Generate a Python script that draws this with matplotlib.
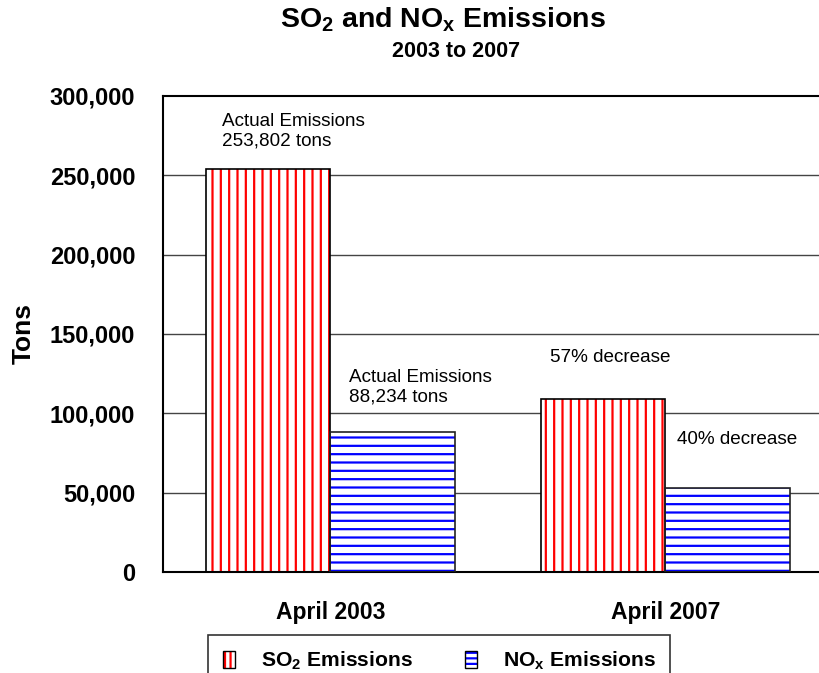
import numpy as np
import matplotlib
matplotlib.use('Agg')
import matplotlib.pyplot as plt
from matplotlib.patches import Patch
from matplotlib.legend_handler import HandlerTuple

plt.rcParams['font.family'] = ['Liberation Sans', 'DejaVu Sans']
plt.rcParams['mathtext.fontset'] = 'custom'
plt.rcParams['mathtext.rm'] = 'Liberation Sans:bold'
plt.rcParams['mathtext.it'] = 'Liberation Sans:bold'
plt.rcParams['mathtext.bf'] = 'Liberation Sans:bold'
plt.rcParams['hatch.linewidth'] = 1.6

# data
periods = ['April 2003', 'April 2007']
so2 = [253802, 109000]
nox = [88234, 53000]
yticks = [0, 50000, 100000, 150000, 200000, 250000, 300000]
notes_so2 = ['Actual Emissions\n253,802 tons', '57% decrease']
notes_nox = ['Actual Emissions\n88,234 tons', '40% decrease']

fig = plt.figure(figsize=(8.2, 6.73), dpi=100)
ax = fig.add_axes([163/820, 101/673, 670/820, 476/673])

x = np.arange(len(periods))
w = 0.373

#hatched fills, then outlines on top
ax.bar(x - w/2, so2, w, color='white', edgecolor='red', hatch='||', lw=0, zorder=2)
ax.bar(x - w/2, so2, w, fill=False, edgecolor='black', lw=1.2, zorder=3)
ax.bar(x + w/2, nox, w, color='white', edgecolor='blue', hatch='--', lw=0, zorder=2)
ax.bar(x + w/2, nox, w, fill=False, edgecolor='#222222', lw=1.2, zorder=3)

ax.set_xlim(-0.5, 1.5)
ax.set_ylim(0, 300000)
ax.set_yticks(yticks)
ax.set_yticklabels([f'{v:,}' for v in yticks], fontsize=17, fontweight='bold')
ax.set_xticks(x)
ax.set_xticklabels(periods, fontsize=16.5, fontweight='bold')
ax.tick_params(axis='y', length=0, pad=20)
ax.tick_params(axis='x', length=0, pad=21)
for v in yticks[1:-1]:
    ax.axhline(v, color='#444444', lw=1, zorder=1)
for s in ax.spines.values():
    s.set_color('black')
    s.set_linewidth(1.5)

ax.set_ylabel('Tons', fontsize=19, fontweight='bold', labelpad=10)

#annotations
ax.text(-0.325, 277600, notes_so2[0], fontsize=13.6, va='center', ha='left', linespacing=1.2)
ax.text(0.054, 116300, notes_nox[0], fontsize=13.6, va='center', ha='left', linespacing=1.2)
ax.text(0.654, 135500, notes_so2[1], fontsize=13.6, va='center', ha='left')
ax.text(1.033, 83200, notes_nox[1], fontsize=13.6, va='center', ha='left')

fig.text(0.54, 0.970, r'SO$_2$ and NO$_\mathrm{x}$ Emissions', ha='center', va='center',
         fontsize=20.5, fontweight='bold')
fig.text(0.556, 0.923, '2003 to 2007', ha='center', va='center', fontsize=15.5, fontweight='bold')

h_so2 = (Patch(facecolor='white', edgecolor='red', hatch='|||', lw=0),
         Patch(fill=False, edgecolor='black', lw=1))
h_nox = (Patch(facecolor='white', edgecolor='blue', hatch='---', lw=0),
         Patch(fill=False, edgecolor='black', lw=1))
leg = fig.legend([h_so2, h_nox], [r'SO$_2$ Emissions', r'NO$_\mathrm{x}$ Emissions'],
                 handler_map={tuple: HandlerTuple(ndivide=1, pad=0)},
                 loc='upper left', bbox_to_anchor=(208/820, 1 - 635/673), ncol=2,
                 prop={'weight': 'bold', 'size': 15.2}, frameon=True, fancybox=False,
                 edgecolor='black', handlelength=0.6, handleheight=0.8,
                 columnspacing=2.45, borderpad=0.7, borderaxespad=0, handletextpad=1.2)
leg.get_frame().set_linewidth(1.2)

plt.savefig('out.png', dpi=100)
